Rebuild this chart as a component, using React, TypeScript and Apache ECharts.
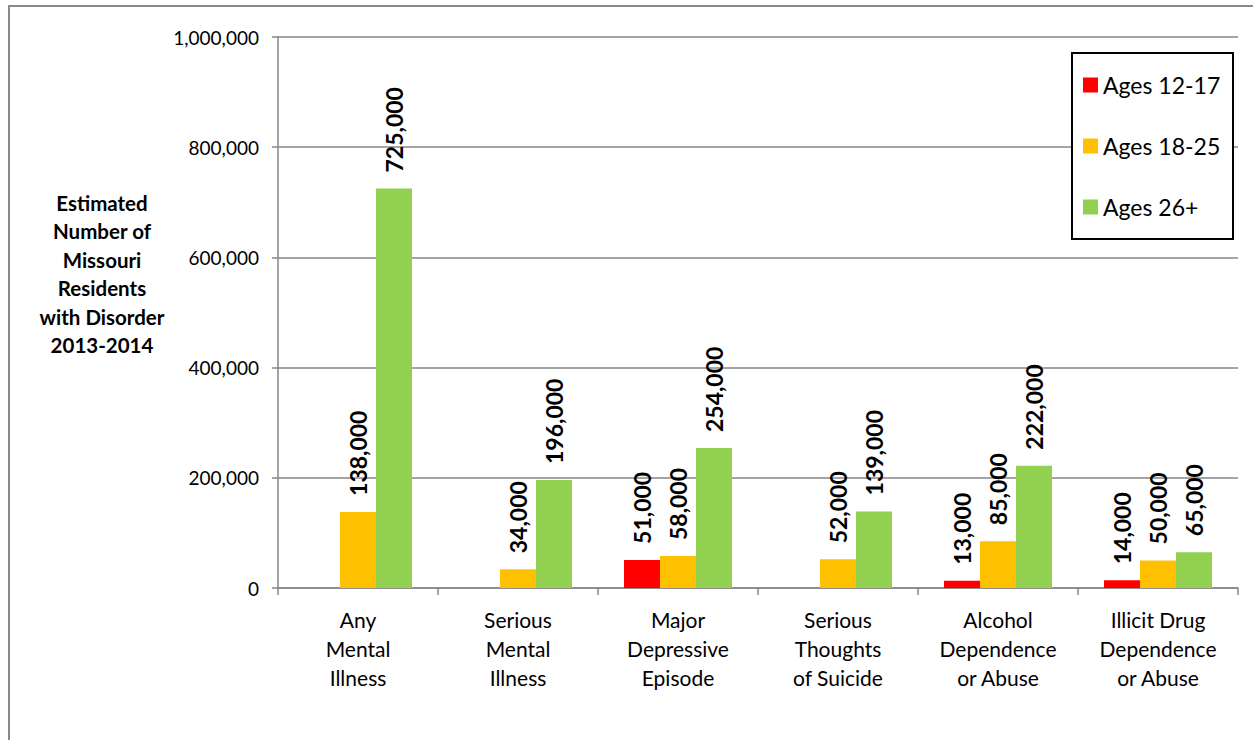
import React, { useEffect, useRef } from "react";
import * as echarts from "echarts";

const categories = [
  "Any\nMental\nIllness",
  "Serious\nMental\nIllness",
  "Major\nDepressive\nEpisode",
  "Serious\nThoughts\nof Suicide",
  "Alcohol\nDependence\nor Abuse",
  "Illicit Drug\nDependence\nor Abuse",
];
const seriesNames = ["Ages 12-17", "Ages 18-25", "Ages 26+"];
const ages12to17 = [null, null, 51000, null, 13000, 14000];
const ages18to25 = [138000, 34000, 58000, 52000, 85000, 50000];
const ages26plus = [725000, 196000, 254000, 139000, 222000, 65000];
const colors = ["#FF0000", "#FFC000", "#92D050"];
const yTitle = "Estimated\nNumber of\nMissouri\nResidents\nwith Disorder\n2013-2014";

const FONT = "Lato, 'Open Sans', sans-serif";
const fmt = (v: number) => Number(v).toLocaleString("en-US");

export default function App() {
  const ref = useRef<HTMLDivElement>(null);
  useEffect(() => {
    if (!ref.current) return;
    const chart = echarts.init(ref.current, null, { renderer: "svg" });
    const values = [ages12to17, ages18to25, ages26plus];
    chart.setOption({
      animation: false,
      backgroundColor: "#ffffff",
      textStyle: { fontFamily: FONT },
      grid: { left: 278, right: 15, top: 37, bottom: 152, containLabel: false },
      legend: {
        orient: "vertical",
        left: 1083,
        top: 73,
        padding: 0,
        itemWidth: 15,
        itemHeight: 15,
        itemGap: 37,
        icon: "rect",
        z: 10,
        textStyle: { fontSize: 23, lineHeight: 24, color: "#000", fontFamily: FONT },
        data: seriesNames,
      },
      xAxis: {
        type: "category",
        data: categories,
        axisLine: { show: true, lineStyle: { color: "#868686", width: 1.5 } },
        axisTick: { show: true, length: 7, lineStyle: { color: "#868686", width: 1.5 } },
        axisLabel: {
          fontSize: 21,
          lineHeight: 29,
          color: "#000",
          margin: 17,
          interval: 0,
          fontFamily: FONT,
        },
      },
      yAxis: {
        type: "value",
        min: 0,
        max: 1000000,
        interval: 200000,
        axisLine: { show: true, lineStyle: { color: "#868686", width: 1.5 } },
        axisTick: { show: true, length: 6, lineStyle: { color: "#868686", width: 1.5 } },
        splitLine: { show: true, lineStyle: { color: "#868686", width: 1.5 } },
        axisLabel: {
          fontSize: 19,
          color: "#000",
          margin: 19,
          fontFamily: FONT,
          formatter: (v: number) => fmt(v),
        },
      },
      graphic: [
        {
          type: "rect",
          z: 0,
          silent: true,
          shape: { x: 9, y: 6, width: 1300, height: 800 },
          style: { fill: "none", stroke: "#898989", lineWidth: 2 },
        },
        {
          type: "rect",
          z: 5,
          silent: true,
          shape: { x: 1072, y: 53, width: 161, height: 186 },
          style: { fill: "#ffffff", stroke: "#000000", lineWidth: 2 },
        },
        {
          type: "text",
          z: 5,
          x: 102,
          y: 274,
          style: {
            text: yTitle,
            fontFamily: FONT,
            fontWeight: "bold",
            fontSize: 20.5,
            lineHeight: 28.5,
            fill: "#000",
            align: "center",
            verticalAlign: "middle",
          },
        },
      ],
      series: seriesNames.map((name, i) => ({
        name,
        type: "bar",
        data: values[i],
        barWidth: 36,
        barGap: "0%",
        itemStyle: { color: colors[i] },
        label: {
          show: true,
          position: "top",
          distance: 16,
          rotate: 90,
          align: "left",
          verticalAlign: "middle",
          fontSize: 23,
          fontWeight: "bold",
          color: "#000",
          fontFamily: FONT,
          formatter: (p: any) => (p.value == null ? "" : fmt(p.value)),
        },
      })),
    });
    return () => chart.dispose();
  }, []);
  return (
    <div
      ref={ref}
      style={{ position: "fixed", left: 0, top: 0, width: 1253, height: 740 }}
    />
  );
}
